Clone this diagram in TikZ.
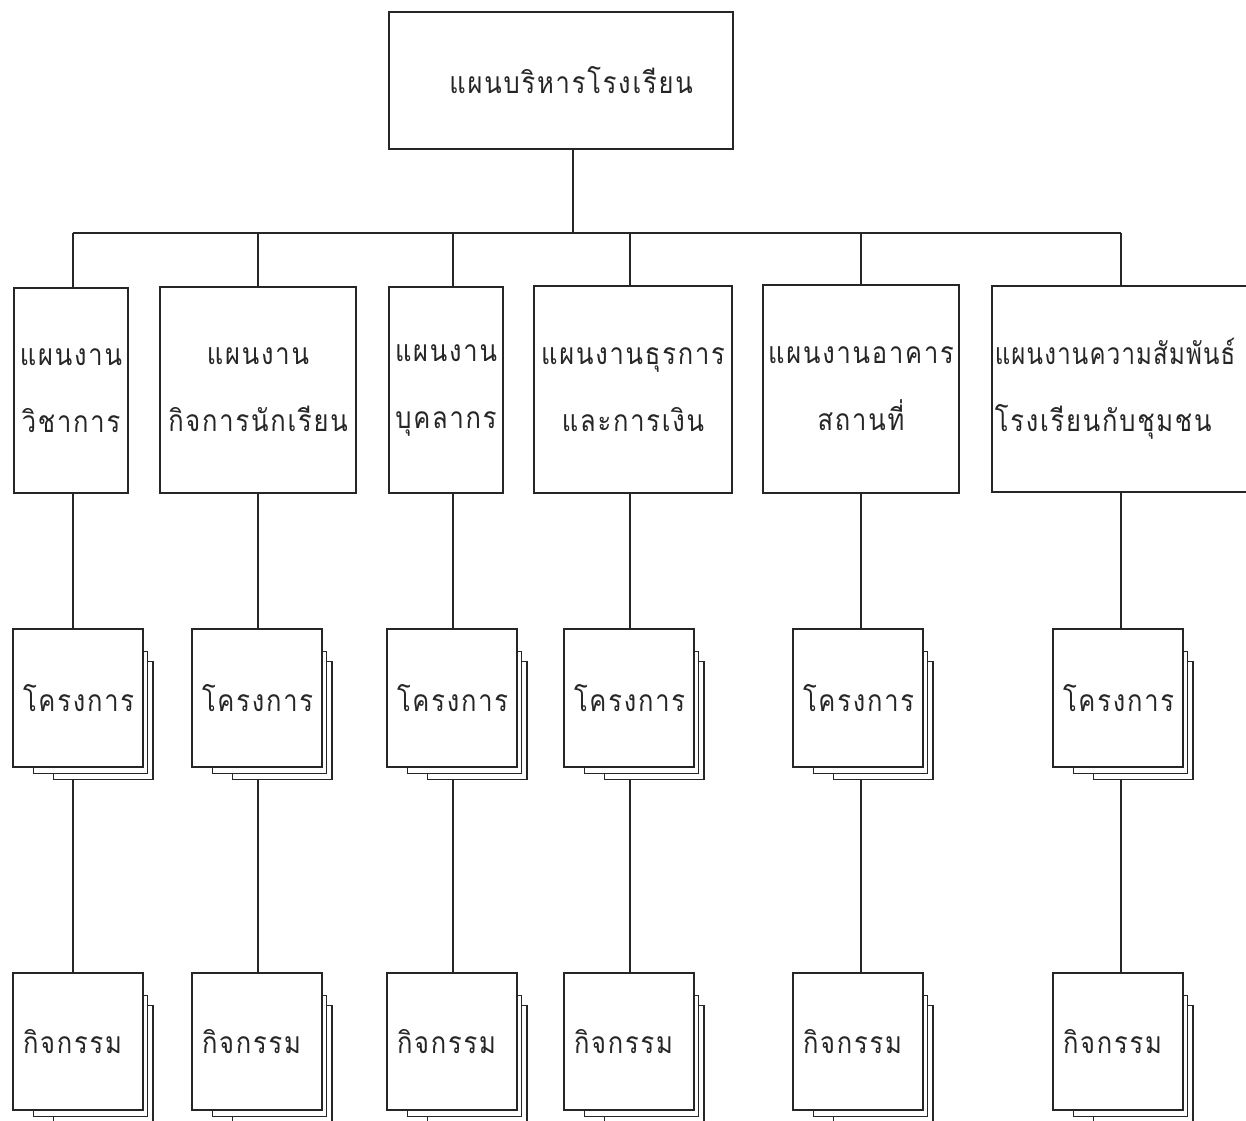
\documentclass[tikz,border=0pt]{standalone}
\usepackage{fontspec}
\newfontfamily\thaifont[Script=Thai,LetterSpace=6,FakeStretch=0.85]{Loma}
\newfontfamily\thainarrow[Script=Thai,LetterSpace=4,FakeStretch=0.8]{Loma}
\usetikzlibrary{calc,backgrounds}
\definecolor{ink}{HTML}{262626}
\newcommand\pileunder[1]{%
  \draw[sheet] ($(#1.north west)+(41,33)$) rectangle ($(#1.south east)+(9,11.5)$);
  \draw[sheet] ($(#1.north west)+(21,23)$) rectangle ($(#1.south east)+(3.5,5.5)$);
}
\begin{document}
\begin{tikzpicture}[x=1pt,y=-1pt,
  txt/.style={font=\thaifont\fontsize{30}{67}\selectfont, text=ink},
  plan/.style={txt, draw=ink, line width=1.6pt, fill=white, inner xsep=2pt, inner ysep=0pt, align=center},
  item/.style={txt, draw=ink, line width=1.6pt, fill=white, inner xsep=10pt, inner ysep=0pt,
    text width=110pt, align=left, minimum width=130pt},
  sheet/.style={draw=ink, line width=1.4pt, fill=white},
  wire/.style={draw=ink, line width=1.2pt}]
\clip (0,0) rectangle (1246,1120);

% top level
\node[plan, text width=340pt, minimum height=137pt] (top) at (561,80.5) {\hspace*{20pt}แผนบริหารโรงเรียน};

% work plans
\node[plan, text width=110pt, minimum height=205pt] (p1) at (71,390.5) {แผนงาน\\วิชาการ};
\node[plan, text width=192pt, minimum height=206pt] (p2) at (258,390) {แผนงาน\\กิจการนักเรียน};
\node[plan, text width=110pt, minimum height=206pt] (p3) at (446,390) {แผนงาน\\บุคลากร};
\node[plan, text width=194pt, minimum height=207pt] (p4) at (633,389.5) {แผนงานธุรการ\\และการเงิน};
\node[plan, text width=192pt, minimum height=208pt] (p5) at (861,389) {แผนงานอาคาร\\สถานที่};
\node[plan, text width=266pt, align=left, inner xsep=3pt, minimum height=206pt, anchor=north west] (p6) at (991,285)
  {{\thainarrow\fontsize{30}{67}\selectfont แผนงานความสัมพันธ์}\\โรงเรียนกับชุมชน};

% projects and activities
\foreach \i/\x in {1/13,2/192,3/387,4/564,5/793,6/1053}{
  \node[item, minimum height=138pt] (q\i) at (\x+65,698) {โครงการ};
  \node[item, minimum height=137pt] (r\i) at (\x+65,1041.5) {กิจกรรม};
}

% connectors and stacked sheets behind the boxes
\coordinate (trunk) at (573,233);
\coordinate (c1) at (73,233);
\coordinate (c2) at (258,233);
\coordinate (c3) at (453,233);
\coordinate (c4) at (630,233);
\coordinate (c5) at (861,233);
\coordinate (c6) at (1121,233);
\begin{scope}[on background layer]
  \draw[wire] (top.south -| trunk) -- (trunk);
  \draw[wire] (c1) -- (c6);
  \foreach \i in {1,...,6}{
    \draw[wire] (c\i) -- (c\i |- p\i.north);
    \draw[wire] (p\i.south -| c\i) -- (c\i |- q\i.north);
    \draw[wire] (q\i.south -| c\i) -- (c\i |- r\i.north);
  }
  \foreach \i in {1,...,6}{
    \pileunder{q\i}
    \pileunder{r\i}
  }
\end{scope}
\end{tikzpicture}
\end{document}
